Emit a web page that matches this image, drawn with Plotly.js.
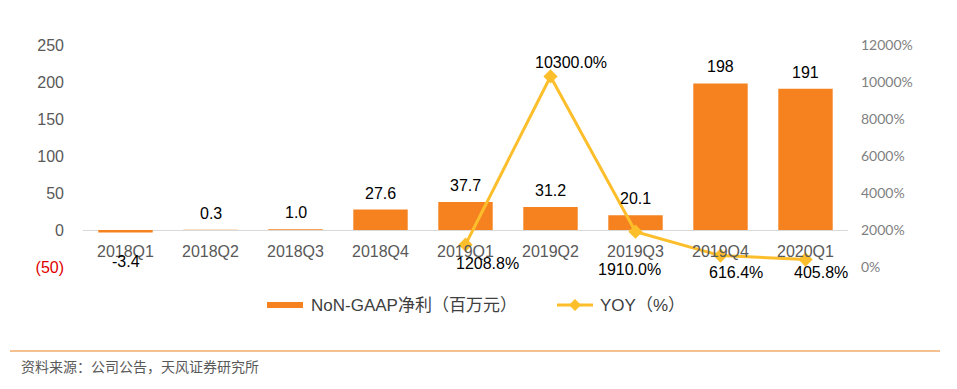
<!DOCTYPE html>
<html>
<head>
<meta charset="utf-8">
<script src="https://cdn.plot.ly/plotly-3.0.1.min.js"></script>
<style>html,body{margin:0;padding:0;background:#fff;}#chart{width:957px;height:389px;}</style>
</head>
<body>
<div id="chart"></div>
<script>
const categories = ["2018Q1","2018Q2","2018Q3","2018Q4","2019Q1","2019Q2","2019Q3","2019Q4","2020Q1"];
const netProfit = [-3.4, 0.3, 1.0, 27.6, 37.7, 31.2, 20.1, 198, 191];
const netProfitLabels = ["-3.4","0.3","1.0","27.6","37.7","31.2","20.1","198","191"];
const yoyCats = ["2019Q1","2019Q2","2019Q3","2019Q4","2020Q1"];
const yoy = [1208.8, 10300.0, 1910.0, 616.4, 405.8];
const yoyLabels = ["1208.8%","10300.0%","1910.0%","616.4%","405.8%"];
const leftTicks = [-50, 0, 50, 100, 150, 200, 250];
const leftTickText = ["<span style='color:#e00000'>(50)</span>","0","50","100","150","200","250"];
const rightTicks = [0, 2000, 4000, 6000, 8000, 10000, 12000];
const rightTickText = ["0%","2000%","4000%","6000%","8000%","10000%","12000%"];
const seriesNames = ["NoN-GAAP净利（百万元）", "YOY（%）"];

const barColor = "#F5821F";
const lineColor = "#FDBE2C";
const numFont = "Liberation Sans, Arial, sans-serif";

const yoyOffsets = [[22,-19],[20,14],[-6,-38],[15,-17],[15,-13]];

// plot area helpers (pixel -> paper)
const PL = 83, PW = 765, PB = 267, PH = 222;
const px = v => (v - PL) / PW;
const py = v => (PB - v) / PH;

const traces = [
  {type:"bar", x:categories, y:netProfit, name:seriesNames[0], marker:{color:barColor}, width:0.64, yaxis:"y", cliponaxis:false, hoverinfo:"skip", showlegend:false},
  {type:"scatter", mode:"lines+markers", x:yoyCats, y:yoy, name:seriesNames[1], yaxis:"y2",
   line:{color:lineColor, width:3}, marker:{symbol:"diamond", size:11, color:lineColor}, cliponaxis:false, hoverinfo:"skip", showlegend:false}
];

const annotations = [];
categories.forEach((c,i)=>{
  annotations.push({x:c, y:0, xref:"x", yref:"y", text:c, showarrow:false, yanchor:"top", yshift:-11,
    font:{family:numFont, size:16, color:"#595959"}});
});
categories.forEach((c,i)=>{
  const v = netProfit[i];
  annotations.push({x:c, y:v, xref:"x", yref:"y", text:netProfitLabels[i], showarrow:false,
    yanchor: v<0 ? "top" : "bottom", yshift: v<0 ? -18 : 6,
    font:{family:numFont, size:16, color:"#000"}});
});
yoyCats.forEach((c,i)=>{
  annotations.push({x:c, y:yoy[i], xref:"x", yref:"y2", text:yoyLabels[i], showarrow:false,
    xshift:yoyOffsets[i][0], yshift:yoyOffsets[i][1],
    font:{family:numFont, size:16, color:"#000"}});
});
// legend texts
annotations.push({x:px(309), y:py(305), xref:"paper", yref:"paper", xanchor:"left", yanchor:"middle", showarrow:false,
  text:seriesNames[0], font:{family:"Liberation Sans, Noto Sans CJK SC, sans-serif", size:17, color:"#404040"}});
annotations.push({x:px(598), y:py(305), xref:"paper", yref:"paper", xanchor:"left", yanchor:"middle", showarrow:false,
  text:seriesNames[1], font:{family:"Liberation Sans, Noto Sans CJK SC, sans-serif", size:17, color:"#404040"}});
// source
annotations.push({x:px(19), y:py(366), xref:"paper", yref:"paper", xanchor:"left", yanchor:"middle", showarrow:false,
  text:"资料来源：公司公告，天风证券研究所", font:{family:"Noto Sans CJK SC", size:14, color:"#595959"}});

const dx = 6/PW, dy = 6/PH, cx = px(575), cy = py(305);
const shapes = [
  {type:"rect", xref:"paper", yref:"paper", x0:px(267), x1:px(303), y0:py(302), y1:py(308), fillcolor:barColor, line:{width:0}},
  {type:"line", xref:"paper", yref:"paper", x0:px(557), x1:px(593), y0:cy, y1:cy, line:{color:lineColor, width:3}},
  {type:"path", xref:"paper", yref:"paper", path:`M ${cx-dx} ${cy} L ${cx} ${cy+dy} L ${cx+dx} ${cy} L ${cx} ${cy-dy} Z`, fillcolor:lineColor, line:{width:0}},
  {type:"line", xref:"paper", yref:"paper", x0:px(10), x1:px(940), y0:py(351), y1:py(351), line:{color:"#F4C08F", width:2}}
];

const layout = {
  width:957, height:389,
  margin:{l:PL, r:957-PL-PW, t:45, b:389-PB},
  paper_bgcolor:"#fff", plot_bgcolor:"#fff",
  showlegend:false,
  xaxis:{type:"category", showticklabels:false, showgrid:false, zeroline:false, showline:false, ticks:"", range:[-0.5,8.5]},
  yaxis:{range:[-50,250], tickvals:leftTicks, ticktext:leftTickText, showgrid:false, zeroline:true, zerolinecolor:"#d9d9d9", zerolinewidth:1,
    showline:false, ticks:"", ticklabelstandoff:18, tickfont:{family:numFont, size:16, color:"#595959"}},
  yaxis2:{overlaying:"y", side:"right", range:[0,12000], tickvals:rightTicks, ticktext:rightTickText, showgrid:false, zeroline:false,
    showline:false, ticks:"", ticklabelstandoff:12, tickfont:{family:"Lato, Liberation Sans, sans-serif", size:14, color:"#7f7f7f"}},
  shapes:shapes,
  annotations:annotations
};
Plotly.newPlot("chart", traces, layout, {displayModeBar:false, staticPlot:true});
</script>
</body>
</html>
